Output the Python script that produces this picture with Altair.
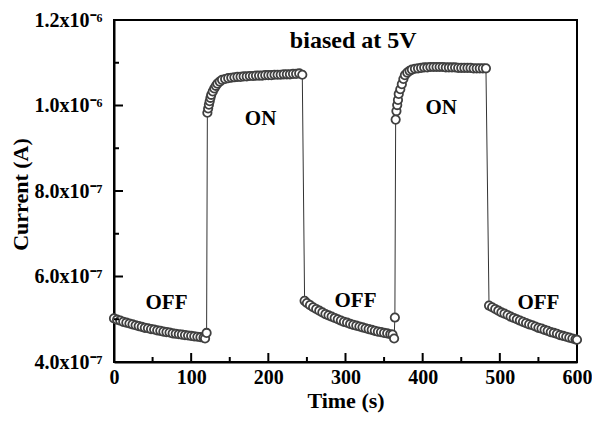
import altair as alt
import pandas as pd

# ---- data (current in units of 1e-7 A) ----
off1_t = [0, 4, 8, 12, 16, 20, 24, 28, 32, 36, 40, 44, 48, 52, 56, 60, 64, 68, 72, 76,
          80, 84, 88, 92, 96, 100, 104, 108, 112, 116, 118, 120]
off1_i = [5.02, 4.99, 4.97, 4.94, 4.92, 4.90, 4.88, 4.86, 4.84, 4.82, 4.80, 4.79, 4.77, 4.76,
          4.74, 4.73, 4.71, 4.70, 4.69, 4.67, 4.66, 4.65, 4.64, 4.63, 4.62, 4.61, 4.60, 4.59,
          4.58, 4.57, 4.55, 4.68]

on1_t = [121, 122, 123, 124, 125, 126, 128, 130, 132, 134, 137, 140, 144, 148, 152, 156, 160,
         164, 168, 172, 176, 180, 184, 188, 192, 196, 200, 204, 208, 212, 216, 220, 224, 228,
         232, 236, 240, 244]
on1_i = [9.83, 9.93, 10.02, 10.10, 10.18, 10.25, 10.33, 10.40, 10.46, 10.51, 10.56, 10.60,
         10.62, 10.64, 10.65, 10.66, 10.67, 10.67, 10.68, 10.68, 10.69, 10.69, 10.70, 10.70,
         10.70, 10.71, 10.71, 10.71, 10.72, 10.72, 10.72, 10.73, 10.73, 10.73, 10.74, 10.74,
         10.75, 10.72]

off2_t = [247, 250, 254, 258, 262, 266, 270, 274, 278, 282, 286, 290, 294, 298, 302, 306, 310,
          314, 318, 322, 326, 330, 334, 338, 342, 346, 350, 354, 358, 361, 363, 364]
off2_i = [5.43, 5.38, 5.33, 5.28, 5.24, 5.20, 5.16, 5.12, 5.09, 5.06, 5.03, 5.00, 4.97, 4.94,
          4.92, 4.89, 4.87, 4.85, 4.83, 4.81, 4.79, 4.77, 4.75, 4.73, 4.71, 4.70, 4.68, 4.67,
          4.65, 4.64, 4.55, 5.04]

on2_t = [365, 366, 367, 368, 369, 371, 373, 375, 377, 380, 383, 386, 390, 394, 398, 402, 406,
         410, 414, 418, 422, 426, 430, 434, 438, 442, 446, 450, 454, 458, 462, 466, 470, 474,
         478, 482]
on2_i = [9.67, 9.87, 10.01, 10.13, 10.27, 10.38, 10.50, 10.62, 10.71, 10.77, 10.81, 10.84,
         10.86, 10.87, 10.88, 10.89, 10.89, 10.90, 10.90, 10.90, 10.90, 10.90, 10.89, 10.89,
         10.89, 10.89, 10.88, 10.88, 10.88, 10.88, 10.88, 10.87, 10.87, 10.87, 10.87, 10.87]

off3_t = [486, 490, 494, 498, 502, 506, 510, 514, 518, 522, 526, 530, 534, 538, 542, 546, 550,
          554, 558, 562, 566, 570, 574, 578, 582, 586, 590, 594, 598, 600]
off3_i = [5.32, 5.28, 5.24, 5.20, 5.16, 5.13, 5.10, 5.06, 5.03, 5.00, 4.97, 4.94, 4.91, 4.88,
          4.86, 4.83, 4.80, 4.78, 4.75, 4.73, 4.70, 4.68, 4.66, 4.63, 4.61, 4.59, 4.57, 4.55,
          4.53, 4.52]

x_major = [0, 100, 200, 300, 400, 500, 600]
x_minor = [50, 150, 250, 350, 450, 550]
y_major = [4, 6, 8, 10, 12]
y_minor = [5, 7, 9, 11]

note_text = ["OFF", "ON", "OFF", "ON", "OFF", "biased at 5V"]
note_t = [68, 190, 313, 424, 550, 310]
note_i = [5.39, 9.69, 5.43, 9.93, 5.38, 11.52]
note_size = [21, 21, 21, 21, 21, 24]

# ---- tables ----
df = pd.DataFrame({
    "t": off1_t + on1_t + off2_t + on2_t + off3_t,
    "i": off1_i + on1_i + off2_i + on2_i + off3_i,
})
notes = pd.DataFrame({"t": note_t, "i": note_i, "txt": note_text, "s": note_size})

W, H = 463, 342
FONT = "Liberation Serif"

xscale = alt.Scale(domain=[0, 600], nice=False, zero=False)
yscale = alt.Scale(domain=[4, 12], nice=False, zero=False)

ylabel = ("datum.value == 4 ? '4.0x10⁻⁷' : datum.value == 6 ? '6.0x10⁻⁷' : "
          "datum.value == 8 ? '8.0x10⁻⁷' : datum.value == 10 ? '1.0x10⁻⁶' : '1.2x10⁻⁶'")

x_enc = alt.X("t:Q", scale=xscale, title="Time (s)",
              axis=alt.Axis(values=x_major, ticks=False, grid=False, labelPadding=5,
                            labelFlush=False, titleBaseline="middle", titleY=38,
                            titleAlign="center"))
y_enc = alt.Y("i:Q", scale=yscale, title="Current (A)",
              axis=alt.Axis(values=y_major, ticks=False, grid=False, labelPadding=12,
                            labelFlush=False, labelExpr=ylabel, titleBaseline="top",
                            titleX=-104, titleY=174, titleAlign="center", titleAngle=-90))

line = alt.Chart(df).mark_line(color="#333333", strokeWidth=1).encode(x=x_enc, y=y_enc)
pts = alt.Chart(df).mark_point(shape="circle", filled=True, fill="white", stroke="#404040",
                               strokeWidth=1.8, size=70, opacity=1).encode(x=x_enc, y=y_enc)

xt_major = alt.Chart(pd.DataFrame({"t": x_major})).mark_rule(color="black", strokeWidth=2).encode(
    x=alt.X("t:Q", scale=xscale), y=alt.value(H), y2=alt.value(H - 9))
xt_minor = alt.Chart(pd.DataFrame({"t": x_minor})).mark_rule(color="black", strokeWidth=2).encode(
    x=alt.X("t:Q", scale=xscale), y=alt.value(H), y2=alt.value(H - 5))
yt_major = alt.Chart(pd.DataFrame({"i": y_major})).mark_rule(color="black", strokeWidth=2).encode(
    y=alt.Y("i:Q", scale=yscale), x=alt.value(0), x2=alt.value(9))
yt_minor = alt.Chart(pd.DataFrame({"i": y_minor})).mark_rule(color="black", strokeWidth=2).encode(
    y=alt.Y("i:Q", scale=yscale), x=alt.value(0), x2=alt.value(5))

text = alt.Chart(notes).mark_text(font=FONT, fontWeight="bold", color="black",
                                  baseline="middle", align="center").encode(
    x=alt.X("t:Q", scale=xscale), y=alt.Y("i:Q", scale=yscale), text="txt:N",
    size=alt.Size("s:Q", scale=None, legend=None))

chart = alt.layer(line, pts, xt_major, xt_minor, yt_major, yt_minor, text).properties(
    width=W, height=H,
    autosize=alt.AutoSizeParams(type="none"),
    padding={"left": 106, "top": 12, "right": 15, "bottom": 51},
).configure_view(stroke="black", strokeWidth=2).configure_axis(
    domainColor="black", domainWidth=2, labelFont=FONT, labelFontWeight="bold",
    labelFontSize=20, labelColor="black", titleFont=FONT, titleFontWeight="bold",
    titleFontSize=22, titleColor="black",
)

chart.save("out.html", embed_options={"renderer": "svg", "actions": False})
